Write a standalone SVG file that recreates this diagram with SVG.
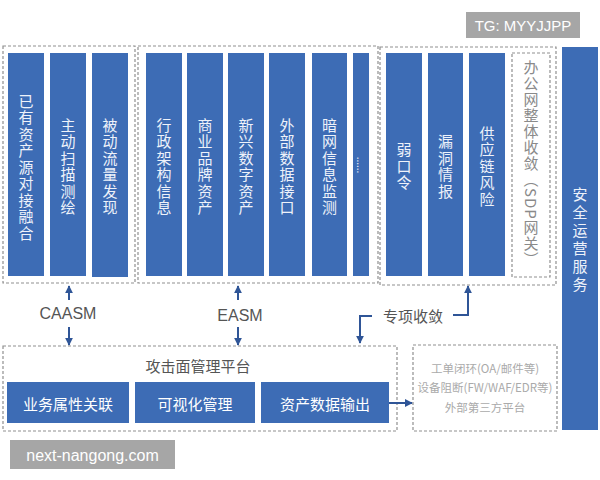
<svg xmlns="http://www.w3.org/2000/svg" width="600" height="480" viewBox="0 0 600 480">
<defs>
<style>
.col{fill:#3d6cb5;}
.dash{fill:none;stroke:#8f8f8f;stroke-width:1.2;stroke-dasharray:3 2;}
.vt{font-family:"Noto Sans CJK SC","Noto Sans",sans-serif;font-size:15px;fill:#eef2fa;writing-mode:vertical-rl;text-anchor:middle;letter-spacing:1.5px;}
.ht{font-family:"Noto Sans CJK SC","Noto Sans",sans-serif;font-size:15px;fill:#ffffff;text-anchor:middle;dominant-baseline:central;}
.lbl{font-family:"Noto Sans CJK SC","Noto Sans",sans-serif;font-size:15px;fill:#555;text-anchor:middle;dominant-baseline:central;}
.gt{font-family:"Noto Sans CJK SC","Noto Sans",sans-serif;font-size:11.5px;fill:#aaaaaa;text-anchor:middle;dominant-baseline:central;}
.conn{fill:none;stroke:#2f5597;stroke-width:2;}
.wm{fill:#a6a6a6;}
.wmt{font-family:"Liberation Sans","Noto Sans",sans-serif;fill:#ffffff;text-anchor:middle;dominant-baseline:central;}
</style>
<marker id="ah" viewBox="0 0 10 10" refX="9" refY="5" markerWidth="4" markerHeight="4" orient="auto-start-reverse" markerUnits="strokeWidth">
<path d="M0,0 L10,5 L0,10 z" fill="#2f5597"/>
</marker>
</defs>
<rect width="600" height="480" fill="#ffffff"/>

<g id="caasm-group">
<rect class="dash" x="3" y="46" width="132" height="237"/>
<g id="n-existing"><rect class="col" x="8" y="53" width="36" height="223"/><text class="vt" x="26" y="168">已有资产源对接融合</text></g>
<g id="n-active"><rect class="col" x="50" y="53" width="36" height="223"/><text class="vt" x="68" y="167">主动扫描测绘</text></g>
<g id="n-passive"><rect class="col" x="92" y="53" width="36" height="224"/><text class="vt" x="110" y="167">被动流量发现</text></g>
</g>

<g id="easm-group">
<rect class="dash" x="138" y="46" width="240" height="237"/>
<g id="n-admin"><rect class="col" x="146" y="53" width="36" height="223"/><text class="vt" x="164" y="167">行政架构信息</text></g>
<g id="n-brand"><rect class="col" x="187" y="53" width="36" height="223"/><text class="vt" x="205" y="167">商业品牌资产</text></g>
<g id="n-digital"><rect class="col" x="228" y="53" width="36" height="223"/><text class="vt" x="246" y="167">新兴数字资产</text></g>
<g id="n-external"><rect class="col" x="269" y="53" width="36" height="223"/><text class="vt" x="287" y="167">外部数据接口</text></g>
<g id="n-darkweb"><rect class="col" x="312" y="53" width="35" height="223"/><text class="vt" x="329.500" y="167">暗网信息监测</text></g>
<g id="n-more"><rect class="col" x="353" y="53" width="16" height="223"/><text class="vt" x="361" y="165" style="font-size:10px;letter-spacing:0">......</text></g>
</g>

<g id="special-group">
<rect class="dash" x="380" y="47" width="176" height="238"/>
<g id="n-weakpwd"><rect class="col" x="386" y="53" width="36" height="223"/><text class="vt" x="404" y="167">弱口令</text></g>
<g id="n-vuln"><rect class="col" x="428" y="53" width="35" height="223"/><text class="vt" x="445.500" y="167">漏洞情报</text></g>
<g id="n-supply"><rect class="col" x="469" y="53" width="36" height="223"/><text class="vt" x="487" y="167">供应链风险</text></g>
<g id="n-office"><rect class="dash" x="512" y="53" width="38" height="224"/><text class="vt" x="531" y="164" style="fill:#8a8a8a;letter-spacing:1px">办公网整体收敛（SDP网关）</text></g>
</g>

<g id="n-secops"><rect class="col" x="562" y="47" width="36" height="383"/><text class="vt" x="580" y="241" style="letter-spacing:3px">安全运营服务</text></g>

<g id="platform">
<rect class="dash" x="3" y="346" width="394" height="85"/>
<text class="lbl" x="198" y="365">攻击面管理平台</text>
<g id="n-biz"><rect class="col" x="7" y="382" width="122" height="41"/><text class="ht" x="68" y="403">业务属性关联</text></g>
<g id="n-visual"><rect class="col" x="135" y="382" width="120" height="41"/><text class="ht" x="195" y="403">可视化管理</text></g>
<g id="n-output"><rect class="col" x="261" y="382" width="128" height="41"/><text class="ht" x="325" y="403">资产数据输出</text></g>
</g>

<g id="n-third">
<rect class="dash" x="413" y="345" width="144" height="86"/>
<text class="gt" x="485" y="368">工单闭环(OA/邮件等)</text>
<text class="gt" x="485" y="387">设备阻断(FW/WAF/EDR等)</text>
<text class="gt" x="485" y="407">外部第三方平台</text>
</g>

<g id="labels">
<text class="lbl" x="68" y="313" style="font-family:'Liberation Sans',sans-serif;font-size:16px">CAASM</text>
<text class="lbl" x="240" y="315" style="font-family:'Liberation Sans',sans-serif;font-size:16px">EASM</text>
<text class="lbl" x="413" y="315">专项收敛</text>
</g>

<g id="connectors">
<line class="conn" x1="69" y1="300" x2="69" y2="286" marker-end="url(#ah)"/>
<line class="conn" x1="69" y1="327" x2="69" y2="345" marker-end="url(#ah)"/>
<line class="conn" x1="238" y1="300" x2="238" y2="286" marker-end="url(#ah)"/>
<line class="conn" x1="238" y1="327" x2="238" y2="345" marker-end="url(#ah)"/>
<polyline class="conn" points="372,316 360,316 360,343" marker-end="url(#ah)"/>
<polyline class="conn" points="453,315 468,315 468,286" marker-end="url(#ah)"/>
<line class="conn" x1="389" y1="403" x2="412" y2="403" marker-end="url(#ah)"/>
</g>

<g id="watermarks">
<rect class="wm" x="466" y="12" width="114" height="26"/>
<text class="wmt" x="523" y="25" style="font-size:15px">TG: MYYJJPP</text>
<rect class="wm" x="10" y="440" width="165" height="29"/>
<text class="wmt" x="92.500" y="455" style="font-size:16px">next-nangong.com</text>
</g>
</svg>
